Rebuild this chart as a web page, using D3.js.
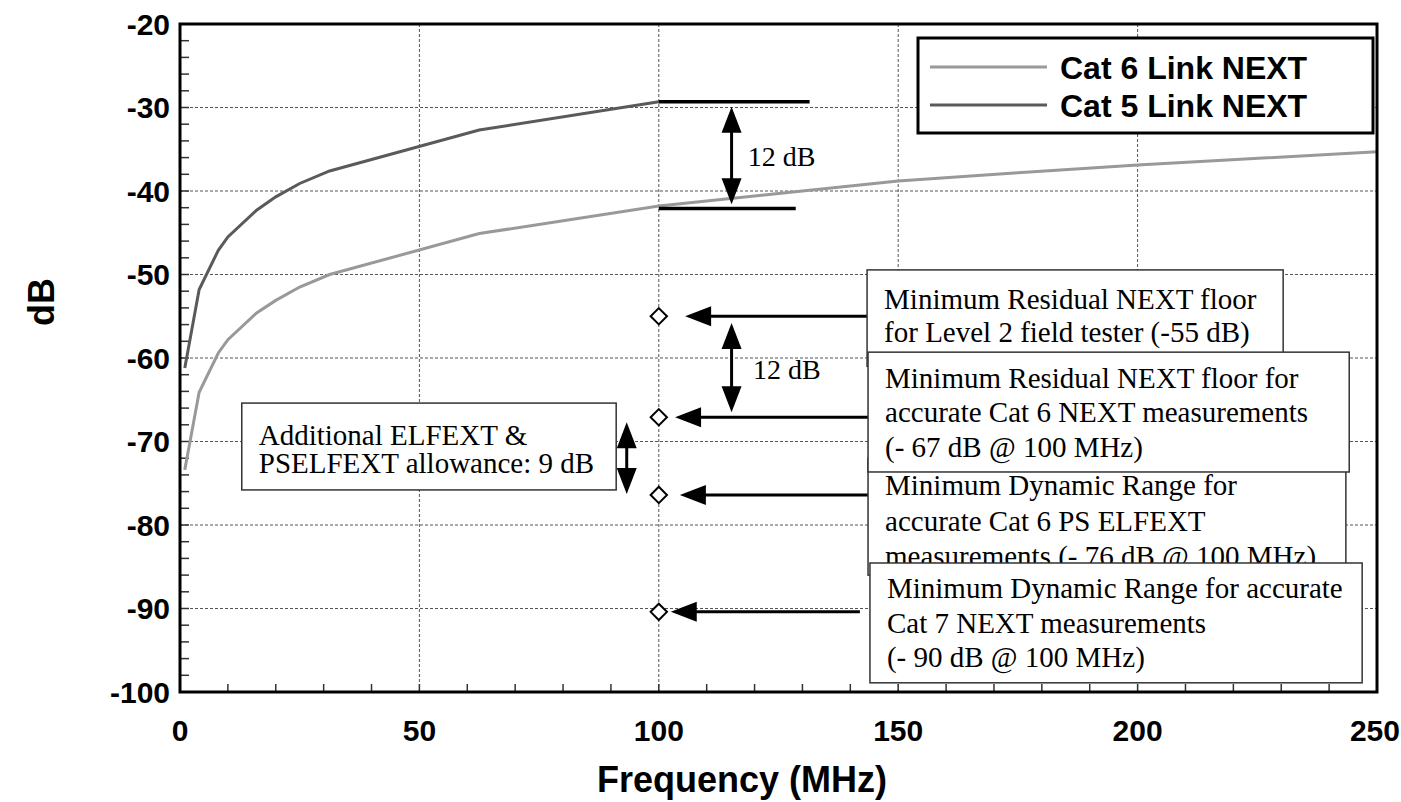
<!DOCTYPE html>
<html>
<head>
<meta charset="utf-8">
<script src="https://cdn.jsdelivr.net/npm/d3@7"></script>
<style>
  body { margin: 0; background: #fff; }
  svg { display: block; }
  .sans { font-family: "Liberation Sans", Arial, sans-serif; font-weight: bold; }
  .note { font-family: "Liberation Serif", "Times New Roman", serif; font-size: 29px; fill: #000; }
</style>
</head>
<body>
<svg id="chart" width="1401" height="802"></svg>
<script>
// curve data
var cat5Freq = [1, 4, 8, 10, 16, 20, 25, 31.25, 62.5, 100]
var cat5Next = [-61.2, -51.8, -47.1, -45.5, -42.3, -40.7, -39.1, -37.6, -32.7, -29.3]
var cat6Freq = [1, 4, 8, 10, 16, 20, 25, 31.25, 62.5, 100, 125, 150, 175, 200, 250]
var cat6Next = [-73.4, -64.1, -59.4, -57.8, -54.6, -53.1, -51.5, -50.0, -45.1, -41.8, -40.3, -38.8, -37.8, -36.9, -35.3]

var seriesNames = ["Cat 6 Link NEXT", "Cat 5 Link NEXT"]

// required floors at 100 MHz
var floorFreq = 100
var floorLevels = [-55, -67.1, -76.4, -90.4]

var xTickValues = [0, 50, 100, 150, 200, 250]
var yTickValues = [-20, -30, -40, -50, -60, -70, -80, -90, -100]

var svg = d3.select("#chart")
var W = 1401, H = 802
var margin = {top: 24, right: 24, bottom: 110, left: 180}
var width = W - margin.left - margin.right
var height = H - margin.top - margin.bottom

var x = d3.scaleLinear().domain([0, 250]).range([margin.left, margin.left + width])
var y = d3.scaleLinear().domain([-100, -20]).range([margin.top + height, margin.top])

// grid
var grid = svg.append("g").attr("class", "grid")
grid.selectAll("line.gx")
    .data(xTickValues.slice(1, -1))
    .enter().append("line")
    .attr("x1", function (d) { return x(d) }).attr("x2", function (d) { return x(d) })
    .attr("y1", y(-20)).attr("y2", y(-100))
    .attr("stroke", "#555").attr("stroke-width", 1).attr("stroke-dasharray", "3,2")
grid.selectAll("line.gy")
    .data(yTickValues.slice(1, -1))
    .enter().append("line")
    .attr("y1", function (d) { return y(d) }).attr("y2", function (d) { return y(d) })
    .attr("x1", x(0)).attr("x2", x(250))
    .attr("stroke", "#555").attr("stroke-width", 1).attr("stroke-dasharray", "3,2")

// minor ticks (inside)
var ticks = svg.append("g")
ticks.selectAll("line.tx")
    .data(d3.range(0, 251, 10))
    .enter().append("line")
    .attr("x1", function (d) { return x(d) }).attr("x2", function (d) { return x(d) })
    .attr("y1", y(-100)).attr("y2", y(-100) - 8)
    .attr("stroke", "#333").attr("stroke-width", 1.5)
ticks.selectAll("line.ty")
    .data(d3.range(-100, -19, 2))
    .enter().append("line")
    .attr("y1", function (d) { return y(d) }).attr("y2", function (d) { return y(d) })
    .attr("x1", x(0)).attr("x2", x(0) + 9)
    .attr("stroke", "#333").attr("stroke-width", 1.5)

// tick labels
svg.append("g").selectAll("text")
    .data(yTickValues)
    .enter().append("text")
    .attr("class", "sans")
    .attr("x", x(0) - 10)
    .attr("y", function (d) { return y(d) })
    .attr("dy", "0.36em")
    .attr("text-anchor", "end")
    .style("font-size", "30px")
    .text(function (d) { return d })
svg.append("g").selectAll("text")
    .data(xTickValues)
    .enter().append("text")
    .attr("class", "sans")
    .attr("x", function (d) { return x(d) })
    .attr("y", y(-100) + 49)
    .attr("text-anchor", "middle")
    .style("font-size", "30px")
    .text(function (d) { return d })
    .each(function () {
        // keep the last label inside the page
        var half = this.getComputedTextLength() / 2
        var cx = +d3.select(this).attr("x")
        if (cx + half > W - 1) d3.select(this).attr("x", W - 1 - half)
    })

// axis titles
svg.append("text")
    .attr("class", "sans")
    .attr("transform", "translate(54,302) rotate(-90)")
    .attr("text-anchor", "middle")
    .style("font-size", "36px")
    .text("dB")
svg.append("text")
    .attr("class", "sans")
    .attr("x", 742).attr("y", 792)
    .attr("text-anchor", "middle")
    .style("font-size", "36px")
    .text("Frequency (MHz)")

// curves
var line = d3.line()
    .x(function (d) { return x(d[0]) })
    .y(function (d) { return y(d[1]) })
svg.append("path")
    .datum(d3.zip(cat6Freq, cat6Next))
    .attr("d", line)
    .attr("fill", "none").attr("stroke", "#999").attr("stroke-width", 3)
svg.append("path")
    .datum(d3.zip(cat5Freq, cat5Next))
    .attr("d", line)
    .attr("fill", "none").attr("stroke", "#5a5a5a").attr("stroke-width", 3)

// helpers for annotation arrows
var head = 26, halfW = 10

function leftArrow(g, fFrom, fTip, v) {
    var x1 = x(fFrom), x2 = x(fTip), yy = y(v)
    g.append("line").attr("x1", x1).attr("x2", x2 + head - 2).attr("y1", yy).attr("y2", yy)
        .attr("stroke", "#000").attr("stroke-width", 3)
    g.append("path")
        .attr("d", "M" + x2 + "," + yy + "L" + (x2 + head) + "," + (yy - halfW) + "L" + (x2 + head) + "," + (yy + halfW) + "Z")
        .attr("fill", "#000")
}

function doubleArrow(g, f, vTop, vBottom) {
    var xx = x(f), y1 = y(vTop), y2 = y(vBottom)
    g.append("line").attr("x1", xx).attr("x2", xx).attr("y1", y1 + head - 2).attr("y2", y2 - head + 2)
        .attr("stroke", "#000").attr("stroke-width", 3)
    g.append("path")
        .attr("d", "M" + xx + "," + y1 + "L" + (xx - halfW) + "," + (y1 + head) + "L" + (xx + halfW) + "," + (y1 + head) + "Z")
        .attr("fill", "#000")
    g.append("path")
        .attr("d", "M" + xx + "," + y2 + "L" + (xx - halfW) + "," + (y2 - head) + "L" + (xx + halfW) + "," + (y2 - head) + "Z")
        .attr("fill", "#000")
}

function noteBox(g, f1, f2, vTop, vBottom, lines, baselines) {
    g.append("rect")
        .attr("x", x(f1)).attr("y", y(vTop))
        .attr("width", x(f2) - x(f1)).attr("height", y(vBottom) - y(vTop))
        .attr("fill", "#fff").attr("stroke", "#333").attr("stroke-width", 1.5)
    g.selectAll(null)
        .data(lines)
        .enter().append("text")
        .attr("class", "note")
        .attr("x", x(f1) + 17)
        .attr("y", function (d, i) { return y(vTop) + baselines[i] })
        .text(function (d) { return d })
}

var ann = svg.append("g")

// 12 dB gap between Cat 5 and Cat 6 at 100 MHz
ann.append("line").attr("x1", x(100)).attr("x2", x(131.5)).attr("y1", y(-29.3)).attr("y2", y(-29.3))
    .attr("stroke", "#000").attr("stroke-width", 3.5)
ann.append("line").attr("x1", x(100)).attr("x2", x(128.6)).attr("y1", y(-42.1)).attr("y2", y(-42.1))
    .attr("stroke", "#000").attr("stroke-width", 3.5)
doubleArrow(ann, 115.2, -29.9, -41.6)
ann.append("text").attr("class", "note").style("font-size", "28px")
    .attr("x", x(118.6)).attr("y", y(-37.0)).text("12 dB")

// arrows to the floors
leftArrow(ann, 143.5, 105.5, floorLevels[0])
leftArrow(ann, 143.7, 103.4, floorLevels[1])
leftArrow(ann, 143.7, 104.4, floorLevels[2])
leftArrow(ann, 142.0, 102.5, floorLevels[3])

doubleArrow(ann, 115.2, -55.8, -66.5)
ann.append("text").attr("class", "note").style("font-size", "28px")
    .attr("x", x(119.7)).attr("y", y(-62.5)).text("12 dB")

doubleArrow(ann, 93.3, -67.7, -76.3)

// note boxes (drawn in stacking order)
noteBox(ann, 143.5, 230.4, -49.45, -61,
    ["Minimum Residual NEXT floor", "for Level 2 field tester (-55 dB)"], [39, 72])
noteBox(ann, 143.7, 243.5, -72.0, -86.0,
    ["Minimum Dynamic Range for", "accurate Cat 6 PS ELFEXT", "measurements (- 76 dB @ 100 MHz)"], [37, 73, 108])
noteBox(ann, 143.7, 244.2, -59.3, -73.65,
    ["Minimum Residual NEXT floor for", "accurate Cat 6 NEXT measurements", "(- 67 dB @ 100 MHz)"], [36, 70, 105])
noteBox(ann, 144.1, 246.9, -84.55, -98.9,
    ["Minimum Dynamic Range for accurate", "Cat 7 NEXT measurements", "(- 90 dB @ 100 MHz)"], [35, 70, 104])
noteBox(ann, 12.9, 91.1, -65.4, -75.8,
    ["Additional ELFEXT &", "PSELFEXT allowance: 9 dB"], [42, 70])

// diamonds at 100 MHz
svg.append("g").selectAll("path")
    .data(floorLevels)
    .enter().append("path")
    .attr("transform", function (d) { return "translate(" + x(floorFreq) + "," + y(d) + ")" })
    .attr("d", d3.symbol().type(d3.symbolDiamond2).size(170))
    .attr("fill", "#fff").attr("stroke", "#000").attr("stroke-width", 2)

// plot frame
svg.append("rect")
    .attr("x", x(0)).attr("y", y(-20))
    .attr("width", x(250) - x(0)).attr("height", y(-100) - y(-20))
    .attr("fill", "none").attr("stroke", "#000").attr("stroke-width", 3)

// legend
var legend = svg.append("g").attr("transform", "translate(918,38)")
legend.append("rect")
    .attr("width", 455).attr("height", 95)
    .attr("fill", "#fff").attr("stroke", "#000").attr("stroke-width", 3)
var legendColors = ["#999", "#5a5a5a"]
var items = legend.selectAll("g.item")
    .data(seriesNames)
    .enter().append("g")
    .attr("transform", function (d, i) { return "translate(0," + (29 + i * 38) + ")" })
items.append("line")
    .attr("x1", 12).attr("x2", 129)
    .attr("stroke", function (d, i) { return legendColors[i] })
    .attr("stroke-width", 3)
items.append("text")
    .attr("class", "sans")
    .attr("x", 142).attr("dy", "0.36em")
    .style("font-size", "32px")
    .text(function (d) { return d })
</script>
</body>
</html>
